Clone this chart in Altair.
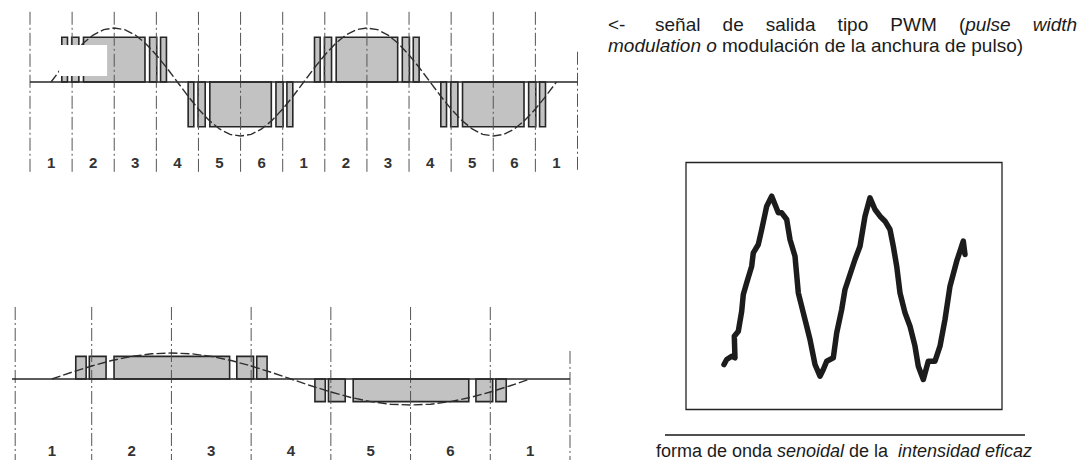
import altair as alt
import numpy as np
import pandas as pd

# ------------------------------------------------------------------ data
# Upper PWM diagram: x in 60-degree sectors, y relative to the sine peak
top_labels = ["1", "2", "3", "4", "5", "6", "1", "2", "3", "4", "5", "6", "1"]
top_lines = [0, 1, 2, 3, 4, 5, 6, 7, 8, 9, 10, 11, 12, 13]
top_line_top = [1.30, 1.30, 1.30, 1.30, 1.30, 1.30, 1.30, 1.30, 1.30, 1.30, 1.30, 1.30, 1.30, 0.56]
top_on = [0.755, 0.99, 1.27, 2.84, 3.10, 3.755, 3.99, 4.27, 5.84, 6.10,
          6.755, 6.99, 7.27, 8.84, 9.10, 9.755, 9.99, 10.27, 11.84, 12.10]
top_off = [0.89, 1.16, 2.73, 3.01, 3.24, 3.89, 4.16, 5.73, 6.01, 6.24,
           6.89, 7.16, 8.73, 9.01, 9.24, 9.89, 10.16, 11.73, 12.01, 12.24]
top_level = [0.83, 0.83, 0.83, 0.83, 0.83, -0.83, -0.83, -0.83, -0.83, -0.83,
             0.83, 0.83, 0.83, 0.83, 0.83, -0.83, -0.83, -0.83, -0.83, -0.83]
top_sine_x = list(np.arange(0.5, 12.51, 0.25))
top_sine_y = [0, 0.26, 0.5, 0.71, 0.87, 0.97, 1, 0.97, 0.87, 0.71, 0.5, 0.26,
              0, -0.26, -0.5, -0.71, -0.87, -0.97, -1, -0.97, -0.87, -0.71, -0.5, -0.26,
              0, 0.26, 0.5, 0.71, 0.87, 0.97, 1, 0.97, 0.87, 0.71, 0.5, 0.26,
              0, -0.26, -0.5, -0.71, -0.87, -0.97, -1, -0.97, -0.87, -0.71, -0.5, -0.26,
              0]

# Lower PWM diagram (lower modulation depth)
bot_labels = ["1", "2", "3", "4", "5", "6", "1"]
bot_lines = [0.04, 1, 2, 3, 4, 5, 6, 7]
bot_line_top = [2.77, 2.77, 2.77, 2.77, 2.77, 2.77, 2.77, 1.08]
bot_on = [0.80, 0.97, 1.28, 2.82, 3.07, 3.80, 3.97, 4.28, 5.82, 6.07]
bot_off = [0.93, 1.18, 2.73, 3.03, 3.20, 3.93, 4.18, 5.73, 6.03, 6.20]
bot_level = [0.87, 0.87, 0.87, 0.87, 0.87, -0.87, -0.87, -0.87, -0.87, -0.87]
bot_sine_x = list(np.arange(0.5, 6.51, 0.25))
bot_sine_y = [0, 0.26, 0.5, 0.71, 0.87, 0.97, 1, 0.97, 0.87, 0.71, 0.5, 0.26,
              0, -0.26, -0.5, -0.71, -0.87, -0.97, -1, -0.97, -0.87, -0.71, -0.5, -0.26,
              0]

# Oscilloscope trace of the current (time in ms, value in divisions)
scope_t = [3.8, 4.07, 4.57, 4.9, 4.83, 5.23, 5.57, 5.73, 6.07, 6.57, 6.73, 7.23, 7.57, 8.07,
           8.57, 8.9, 9.23, 9.57, 10.07, 10.4, 10.9, 11.23, 11.73, 12.07, 12.4, 12.9, 13.4,
           13.73, 14.07, 14.73, 15.07, 15.57, 15.9, 16.4, 16.9, 17.4, 17.9, 18.4, 18.9, 19.4,
           19.9, 20.4, 20.73, 21.07, 21.4, 21.9, 22.4, 22.9, 23.23, 23.73, 24.23, 24.9, 25.4,
           25.9, 26.4, 27.07, 27.73, 27.9]
scope_v = [-7.85, -7.35, -7.02, -7.18, -5.02, -4.52, -2.52, -0.85, 0.32, 1.98, 3.32, 4.15, 5.65,
           7.98, 8.98, 8.15, 7.32, 7.32, 6.65, 4.65, 2.98, -0.68, -2.68, -4.02, -5.35, -7.85,
           -9.02, -8.35, -7.52, -7.18, -4.68, -2.35, -0.35, 1.15, 2.65, 3.98, 6.98, 8.82, 7.65,
           6.98, 6.48, 5.65, 3.98, 1.98, -0.68, -2.68, -4.02, -6.02, -8.02, -9.35, -7.52, -7.52,
           -6.02, -3.35, -0.02, 2.48, 4.48, 3.15]

line1_words = ["<-", "señal", "de", "salida", "tipo", "PWM", "(", "pulse", "width"]
line2_parts = ["modulation o", "modulación de la anchura de pulso)"]
caption_parts = ["forma de onda", "senoidal", "de la", "intensidad eficaz"]

# ------------------------------------------------------------------ layout helpers
def P(v):
    """page pixel -> chart pixel (page has an 8px margin)"""
    return v - 8


def sc(domain, rng):
    return alt.Scale(domain=domain, range=rng, nice=False, zero=False)


TX = sc([0, 13], [P(30), P(577.5)])
TY = sc([-1, 1], [P(136), P(28)])
BX = sc([0, 7], [P(12), P(570)])
BY = sc([-1, 1], [P(405), P(353)])
SX = sc([0, 31.6], [P(686), P(1002)])
SY = sc([-12.35, 12.35], [P(409.5), P(162.5)])

FILL = "#c2c2c2"
INK = "#262626"
GRID = "#555555"
DASHDOT = [13, 3, 2, 3]


def pwm_layers(XS, YS, lines, line_top, line_bot, on, off, lvl, sx, sy, labels, label_y, xmax):
    layers = []
    pulses = pd.DataFrame({"on": on, "off": off, "lvl": lvl, "base": [0.0] * len(on)})
    layers.append(
        alt.Chart(pulses).mark_rect(fill=FILL, stroke=INK, strokeWidth=1.6).encode(
            x=alt.X("on:Q", scale=XS, axis=None), x2="off:Q",
            y=alt.Y("lvl:Q", scale=YS, axis=None), y2="base:Q")
    )
    grid = pd.DataFrame({"pos": lines, "top": line_top})
    layers.append(
        alt.Chart(grid).mark_rule(color=GRID, strokeWidth=1, strokeDash=DASHDOT).encode(
            x=alt.X("pos:Q", scale=XS, axis=None),
            y=alt.Y("top:Q", scale=YS, axis=None), y2=alt.Y2(datum=line_bot))
    )
    layers.append(
        alt.Chart(pd.DataFrame({"a": [0]})).mark_rule(color=INK, strokeWidth=1.6).encode(
            x=alt.X(datum=0, scale=XS, axis=None), x2=alt.X2(datum=xmax),
            y=alt.Y(datum=0, scale=YS, axis=None))
    )
    sine = pd.DataFrame({"x": sx, "y": sy})
    layers.append(
        alt.Chart(sine).mark_line(color="#2e2e2e", strokeWidth=1.4, strokeDash=[9, 3]).encode(
            x=alt.X("x:Q", scale=XS, axis=None), y=alt.Y("y:Q", scale=YS, axis=None))
    )
    lab = pd.DataFrame({"c": [i + 0.5 for i in range(len(labels))], "t": labels})
    layers.append(
        alt.Chart(lab).mark_text(font="Liberation Sans", fontSize=15, fontWeight="bold",
                                 color="#333333").encode(
            x=alt.X("c:Q", scale=XS, axis=None), y=alt.Y(datum=label_y, scale=YS, axis=None),
            text="t:N")
    )
    return layers


layers = []
layers += pwm_layers(TX, TY, top_lines, top_line_top, -1.67, top_on, top_off, top_level,
                     top_sine_x, top_sine_y, top_labels, -1.5, 13)
# scan damage in the first positive half-wave of the upper diagram
layers.append(
    alt.Chart(pd.DataFrame({"a": [0]})).mark_rect(color="white").encode(
        x=alt.X(datum=0.69, scale=TX, axis=None), x2=alt.X2(datum=1.83),
        y=alt.Y(datum=0.685, scale=TY, axis=None), y2=alt.Y2(datum=0.11))
)
layers += pwm_layers(BX, BY, bot_lines, bot_line_top, -3.42, bot_on, bot_off, bot_level,
                     bot_sine_x, bot_sine_y, bot_labels, -2.78, 7)

# oscilloscope
layers.append(
    alt.Chart(pd.DataFrame({"a": [0]})).mark_rect(fillOpacity=0, stroke="#222222",
                                                  strokeWidth=1.3).encode(
        x=alt.X(datum=0, scale=SX, axis=None), x2=alt.X2(datum=31.6),
        y=alt.Y(datum=-12.35, scale=SY, axis=None), y2=alt.Y2(datum=12.35))
)
scope = pd.DataFrame({"t": scope_t, "v": scope_v, "i": list(range(len(scope_t)))})
layers.append(
    alt.Chart(scope).mark_line(color="#1c1c1c", strokeWidth=5.5, strokeJoin="round",
                               strokeCap="round").encode(
        x=alt.X("t:Q", scale=SX, axis=None), y=alt.Y("v:Q", scale=SY, axis=None),
        order="i:Q")
)

# texts
def txt(s, x, y, italic=False, size=19):
    return alt.Chart(pd.DataFrame({"t": [s]})).mark_text(
        align="left", baseline="middle", font="Liberation Sans", fontSize=size,
        fontStyle="italic" if italic else "normal", color="#1b1b1b").encode(
        text="t:N", x=alt.value(P(x)), y=alt.value(P(y)))


line1_x = [608, 655, 722.6, 765.8, 837.6, 890.3, 958.9, 965.2, 1032.7]
line1_it = [False, False, False, False, False, False, False, True, True]
for w, xx, it in zip(line1_words, line1_x, line1_it):
    layers.append(txt(w, xx, 25, it))
layers.append(txt(line2_parts[0], 608, 46, True))
layers.append(txt(line2_parts[1], 722, 46, False))

layers.append(
    alt.Chart(pd.DataFrame({"a": [0]})).mark_rule(color="#505050", strokeWidth=2).encode(
        x=alt.value(P(665)), x2=alt.value(P(1025)), y=alt.value(P(435)))
)
cap_x = [656, 777, 849, 898]
cap_it = [False, True, False, True]
for s, xx, it in zip(caption_parts, cap_x, cap_it):
    layers.append(txt(s, xx, 452, it, 18))

chart = alt.layer(*layers).resolve_scale(x="independent", y="independent").properties(
    width=1071, height=452, padding=0, autosize=alt.AutoSizeParams(type="none"),
    background="white"
).configure_view(strokeWidth=0)

chart.save("out.html", embed_options={"renderer": "svg", "actions": False})
